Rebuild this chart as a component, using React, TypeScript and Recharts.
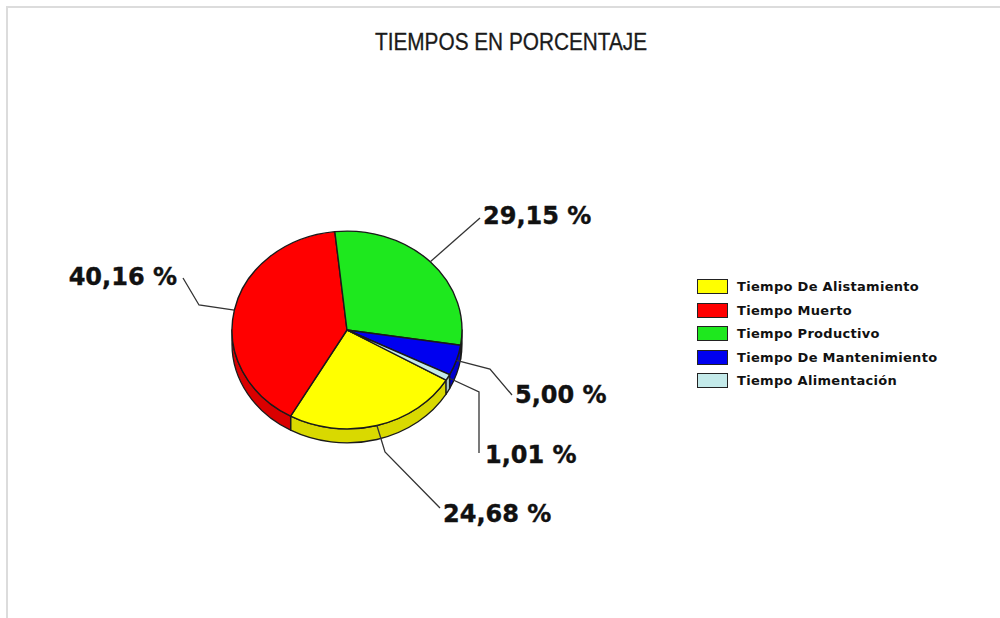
import React from 'react';
import { PieChart, Pie, Cell, Legend } from 'recharts';

const categories = [
  'Tiempo De Alistamiento',
  'Tiempo Muerto',
  'Tiempo Productivo',
  'Tiempo De Mantenimiento',
  'Tiempo Alimentación',
];
const percentages = [24.68, 40.16, 29.15, 5.0, 1.01];
const colors = ['#ffff00', '#ff0000', '#1ee81e', '#0000f0', '#c4eaea'];
const chartTitle = 'TIEMPOS EN PORCENTAJE';

const data = categories.map((name, i) => ({ name, value: percentages[i] }));

const TILT = 0.86;
const DEPTH = 14;
const RAD = Math.PI / 180;

// label leader layout, offsets relative to pie center (per slice index)
const labelLayout: { elbow: number[]; end: number[]; text: number[]; anchor: 'start' | 'end' }[] = [
  { elbow: [38, 122], end: [93, 178], text: [96, 192], anchor: 'start' },
  { elbow: [-148, -25], end: [-164, -52], text: [-170, -45], anchor: 'end' },
  { elbow: [133, -112], end: [133, -112], text: [136, -106], anchor: 'start' },
  { elbow: [143, 39], end: [165, 65], text: [168, 73], anchor: 'start' },
  { elbow: [132, 62], end: [132, 123], text: [138, 133], anchor: 'start' },
];

function pt(cx: number, cy: number, rx: number, ry: number, a: number): [number, number] {
  return [cx + rx * Math.cos(-a * RAD), cy + ry * Math.sin(-a * RAD)];
}

function shade(hex: string, f: number) {
  const n = parseInt(hex.slice(1), 16);
  const r = Math.round(((n >> 16) & 255) * f);
  const g = Math.round(((n >> 8) & 255) * f);
  const b = Math.round((n & 255) * f);
  return `rgb(${r},${g},${b})`;
}

function Slice3D(props: any) {
  const { cx, cy, outerRadius, startAngle, endAngle, fill } = props;
  const rx = outerRadius;
  const ry = outerRadius * TILT;
  const lo = Math.min(startAngle, endAngle);
  const hi = Math.max(startAngle, endAngle);
  const sides: string[] = [];
  for (let k = -3; k <= 3; k++) {
    const a = Math.max(lo, -180 + 360 * k);
    const b = Math.min(hi, 360 * k);
    if (b - a > 0.01) {
      const p1 = pt(cx, cy, rx, ry, a);
      const p2 = pt(cx, cy, rx, ry, b);
      sides.push(
        `M${p1[0]},${p1[1]} A${rx},${ry} 0 0 0 ${p2[0]},${p2[1]} L${p2[0]},${p2[1] + DEPTH} A${rx},${ry} 0 0 1 ${p1[0]},${p1[1] + DEPTH} Z`
      );
    }
  }
  const ps = pt(cx, cy, rx, ry, startAngle);
  const pe = pt(cx, cy, rx, ry, endAngle);
  const large = Math.abs(startAngle - endAngle) > 180 ? 1 : 0;
  const sweep = endAngle < startAngle ? 1 : 0;
  const top = `M${cx},${cy} L${ps[0]},${ps[1]} A${rx},${ry} 0 ${large} ${sweep} ${pe[0]},${pe[1]} Z`;
  return (
    <g>
      {sides.map((d, i) => (
        <path key={i} d={d} fill={shade(fill, 0.85)} stroke="#1a1a1a" strokeWidth={1.3} strokeLinejoin="round" />
      ))}
      <path d={top} fill={fill} stroke="#1a1a1a" strokeWidth={1.4} strokeLinejoin="round" />
    </g>
  );
}

function renderLabel(props: any) {
  const { cx, cy, outerRadius, midAngle, value, index } = props;
  const rx = outerRadius;
  const ry = outerRadius * TILT;
  const p = pt(cx, cy, rx, ry, midAngle);
  const L = labelLayout[index];
  const txt = `${Number(value).toFixed(2).replace('.', ',')} %`;
  return (
    <g key={`lbl-${index}`}>
      <polyline
        points={`${p[0]},${p[1]} ${cx + L.elbow[0]},${cy + L.elbow[1]} ${cx + L.end[0]},${cy + L.end[1]}`}
        fill="none"
        stroke="#333"
        strokeWidth={1.3}
      />
      <text
        x={cx + L.text[0]}
        y={cy + L.text[1]}
        textAnchor={L.anchor}
        fontFamily="DejaVu Sans, Verdana, sans-serif"
        fontWeight="bold"
        fontSize={24}
        fill="#111"
        stroke="#111"
        strokeWidth={0.4}
      >
        {txt}
      </text>
    </g>
  );
}

function LegendContent(props: any) {
  const payload = [...(props.payload || [])].sort(
    (a: any, b: any) => categories.indexOf(a.value) - categories.indexOf(b.value)
  );
  return (
    <div
      style={{
        fontFamily: 'DejaVu Sans, Verdana, sans-serif',
        fontWeight: 'bold',
        fontSize: 13,
        letterSpacing: 0.3,
        color: '#111',
      }}
    >
      {payload.map((p: any, i: number) => (
        <div key={i} style={{ display: 'flex', alignItems: 'center', height: 23.5 }}>
          <span
            style={{
              display: 'inline-block',
              width: 29,
              height: 13,
              background: p.color || colors[categories.indexOf(p.value)],
              border: '1px solid #222',
              marginRight: 9,
            }}
          />
          <span>{p.value}</span>
        </div>
      ))}
    </div>
  );
}

export default function App() {
  return (
    <div style={{ position: 'absolute', left: 0, top: 0, width: 1000, height: 618, background: '#fff' }}>
      <div
        style={{
          position: 'absolute',
          left: 6,
          top: 6,
          right: 0,
          bottom: 0,
          borderTop: '2px solid #dcdcdc',
          borderLeft: '2px solid #dcdcdc',
        }}
      />
      <svg width={1000} height={80} style={{ position: 'absolute', left: 0, top: 0 }}>
        <text
          x={511}
          y={50}
          textAnchor="middle"
          fontFamily="Liberation Sans, Arial, sans-serif"
          fontSize={23}
          textLength={272}
          lengthAdjust="spacingAndGlyphs"
          fill="#1a1a1a"
          stroke="#1a1a1a"
          strokeWidth={0.3}
        >
          {chartTitle}
        </text>
      </svg>
      <div style={{ position: 'absolute', left: 0, top: 0 }}>
        <PieChart width={1000} height={618} margin={{ top: 0, right: 0, bottom: 0, left: 0 }}>
          <Pie
            data={data}
            dataKey="value"
            nameKey="name"
            cx={347}
            cy={330}
            outerRadius={115}
            startAngle={-30.5}
            endAngle={-390.5}
            isAnimationActive={false}
            stroke="#1a1a1a"
            labelLine={false}
            label={renderLabel}
            shape={Slice3D}
            activeShape={Slice3D}
            inactiveShape={Slice3D}
          >
            {data.map((d, i) => (
              <Cell key={d.name} fill={colors[i]} />
            ))}
          </Pie>
          <Legend
            layout="vertical"
            verticalAlign="top"
            align="right"
            itemSorter={null as any}
            content={<LegendContent />}
            wrapperStyle={{ left: 697, top: 275, width: 290 }}
          />
        </PieChart>
      </div>
    </div>
  );
}
